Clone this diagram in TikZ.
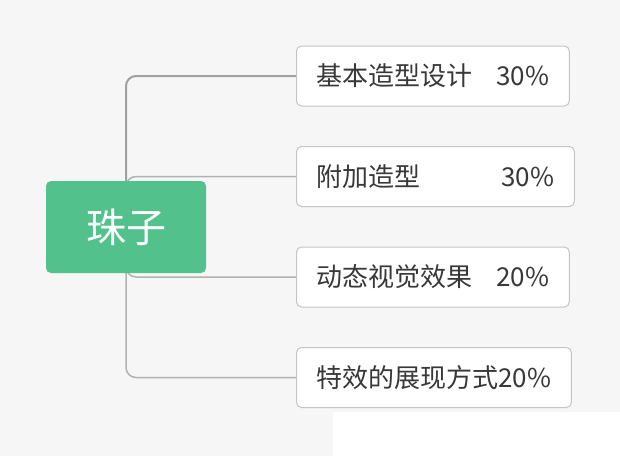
\documentclass[tikz,border=0pt]{standalone}
\usepackage{fontspec}
\setmainfont{Noto Sans CJK SC}
\usepackage{tikz}
\usetikzlibrary{positioning}
\definecolor{beadgreen}{HTML}{52C18B}
\definecolor{pagegray}{HTML}{F6F6F6}
\definecolor{linkgray}{HTML}{B2B2B2}
\definecolor{boxline}{HTML}{C4C4C4}
\definecolor{labeltext}{HTML}{383838}
\pgfdeclarelayer{page}
\pgfdeclarelayer{links}
\pgfsetlayers{page,links,main}

\begin{document}
\begin{tikzpicture}[x=1pt, y=-1pt,
  rootbox/.style={fill=beadgreen, rounded corners=5pt, minimum width=160pt, minimum height=92pt, text=white, font=\fontsize{40}{46}\selectfont},
  topicbox/.style={draw=boxline, line width=1pt, fill=white, rounded corners=5pt, anchor=west, minimum height=60pt, inner xsep=20pt, text=labeltext, font=\fontsize{26}{30}\selectfont},
  link/.style={draw=linkgray, line width=1.5pt, rounded corners=10pt}]

  % Page
  \useasboundingbox (0,0) rectangle (620,456);
  \begin{pgfonlayer}{page}
    \fill[pagegray] (0,0) rectangle (620,456);
    \fill[white] (333,412) rectangle (620,456);
  \end{pgfonlayer}

  % Root
  \node[rootbox] (bead) at (126,227) {珠子};

  % Topics
  \node[topicbox] (shape) at (296,76) {\makebox[180pt][l]{基本造型设计}30\%};
  \node[topicbox] (extra) at (296,176.5) {\makebox[185pt][l]{附加造型}30\%};
  \node[topicbox] (motion) at (296,277) {\makebox[180pt][l]{动态视觉效果}20\%};
  \node[topicbox] (effect) at (296,377.5) {特效的展现方式20\%};

  % Links, behind the root
  \begin{pgfonlayer}{links}
    \draw[link, line width=2pt, draw=linkgray!90!black] (bead.center) |- (shape.west);
    \draw[link] (bead.center) |- (extra.west);
    \draw[link] (bead.center) |- (motion.west);
    \draw[link] (bead.center) |- (effect.west);
  \end{pgfonlayer}
\end{tikzpicture}
\end{document}
